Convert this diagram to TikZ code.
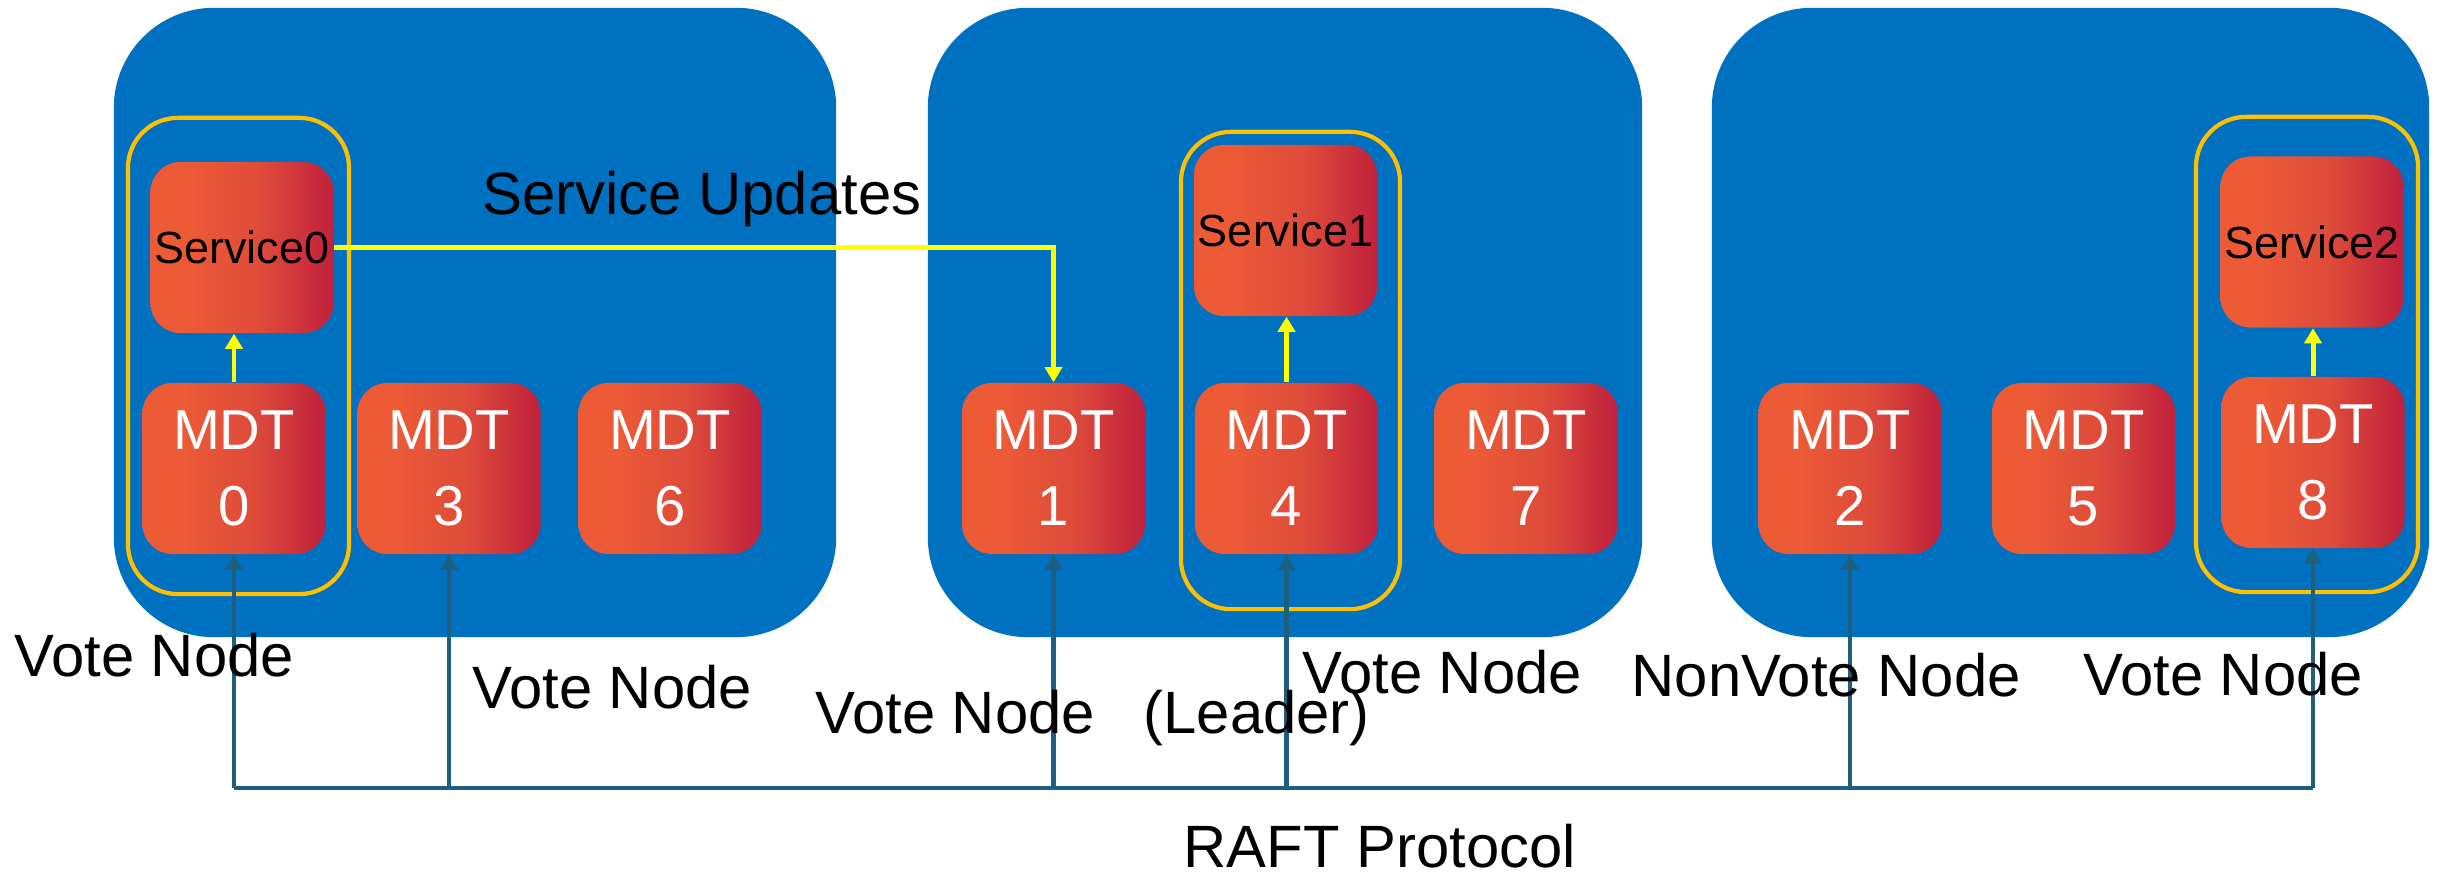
\documentclass[tikz,border=0pt]{standalone}
\usepackage{fontspec}
\setmainfont{Liberation Sans}
\usetikzlibrary{arrows.meta}

\definecolor{zoneblue}{RGB}{0,112,192}
\definecolor{ringgold}{RGB}{255,192,0}
\definecolor{linkteal}{RGB}{30,95,128}
\definecolor{updyellow}{RGB}{255,255,0}
\definecolor{tileL}{RGB}{236,90,54}
\definecolor{tileM}{RGB}{222,75,58}
\definecolor{tileR}{RGB}{192,33,60}

% orange-to-crimson fill of the MDT and service tiles
\pgfdeclarehorizontalshading{tilegrad}{100bp}{color(0bp)=(tileL); color(25bp)=(tileL); color(36bp)=(tileL); color(55bp)=(tileM); color(75bp)=(tileR); color(100bp)=(tileR)}

\begin{document}
\begin{tikzpicture}[x=0.01cm, y=-0.01cm,
  zone/.style={fill=zoneblue, rounded corners=1cm, minimum height=6.29cm, inner sep=0pt},
  ring/.style={draw=ringgold, line width=1.2pt, rounded corners=0.5cm, inner sep=0pt},
  tile/.style={shade, shading=tilegrad, rounded corners=0.3cm, minimum width=1.83cm,
               minimum height=1.71cm, inner sep=0pt, text=white, align=center,
               font=\fontsize{16}{21.6}\selectfont},
  svc/.style={tile, text=black, font=\fontsize{12.8}{15}\selectfont},
  caption/.style={anchor=base west, inner sep=0pt, font=\fontsize{17}{20}\selectfont},
  bus/.style={draw=linkteal, line width=1.3pt},
  busarrow/.style={bus, -{Triangle[width=0.17cm,length=0.15cm]}},
  upd/.style={draw=updyellow, line width=1.4pt, -{Triangle[width=0.17cm,length=0.15cm]}}
]
\useasboundingbox (0,0) rectangle (2440,877);

% three server zones
\node[zone, minimum width=7.22cm] (zone1) at (475,322.5) {};
\node[zone, minimum width=7.14cm] (zone2) at (1285,322.5) {};
\node[zone, minimum width=7.17cm] (zone3) at (2070.5,322.5) {};

% groups holding a service and its MDT
\node[ring, minimum width=2.21cm, minimum height=4.76cm] (ring0) at (238.5,356) {};
\node[ring, minimum width=2.19cm, minimum height=4.77cm] (ring1) at (1290.5,370.5) {};
\node[ring, minimum width=2.22cm, minimum height=4.75cm] (ring2) at (2307,354.5) {};

% services
\node[svc] (svc0) at (242,247.5) {Service0};
\node[svc] (svc1) at (1285.5,230.5) {Service1};
\node[svc] (svc2) at (2312,242) {Service2};

% metadata targets
\node[tile] (mdt0) at (234,468.5) {MDT\\0};
\node[tile] (mdt3) at (449,468.5) {MDT\\3};
\node[tile] (mdt6) at (670,468.5) {MDT\\6};
\node[tile] (mdt1) at (1053.5,468.5) {MDT\\1};
\node[tile] (mdt4) at (1286.5,468.5) {MDT\\4};
\node[tile] (mdt7) at (1526,468.5) {MDT\\7};
\node[tile] (mdt2) at (1850,468.5) {MDT\\2};
\node[tile] (mdt5) at (2083.5,468.5) {MDT\\5};
\node[tile] (mdt8) at (2313,462.5) {MDT\\8};

% service update flow
\draw[upd] (mdt0.north) -- (mdt0.north |- svc0.south);
\draw[upd] (mdt4.north) -- (mdt4.north |- svc1.south);
\draw[upd] (mdt8.north) -- (mdt8.north |- svc2.south);
\draw[upd] (svc0.east) -- (svc0.east -| mdt1.north) -- (mdt1.north);

% RAFT bus
\coordinate (busrow) at (0,788);
\draw[bus] (mdt0.south |- busrow) -- (mdt8.south |- busrow);
\foreach \m in {mdt0,mdt3,mdt1,mdt4,mdt2,mdt8}
  \draw[busarrow] (\m.south |- busrow) -- (\m.south);

% captions
\node[caption] (lblupd) at (482,215) {Service Updates};
\node[caption] (lbl0) at (14,677) {Vote Node};
\node[caption] (lbl3) at (472,709) {Vote Node};
\node[caption] (lbl1) at (815,734) {Vote Node};
\node[caption] (lbllead) at (1143,734) {(Leader)};
\node[caption] (lbl4) at (1302,694) {Vote Node};
\node[caption] (lbl2) at (1631,697) {NonVote Node};
\node[caption] (lbl8) at (2083,696) {Vote Node};
\node[caption] (lblraft) at (1183,867) {RAFT Protocol};
\end{tikzpicture}
\end{document}
